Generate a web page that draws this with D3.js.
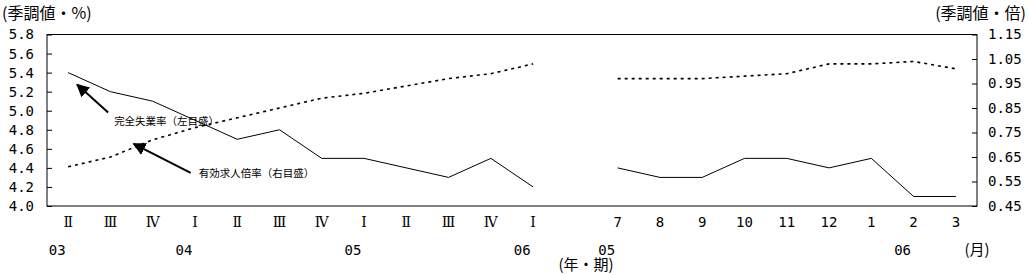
<!DOCTYPE html>
<html>
<head>
<meta charset="utf-8">
<script src="https://cdn.jsdelivr.net/npm/d3@7"></script>
<style>
  body { margin: 0; background: #fff; }
  svg { display: block; }
  .axis text { font-family: "DejaVu Sans Mono", monospace; font-size: 14px; fill: #000; }
  .cjk { font-family: "Noto Sans CJK JP", sans-serif; fill: #000; }
</style>
</head>
<body>
<svg width="1028" height="275"></svg>
<script>
// quarterly part (2003 II - 2006 I) and monthly part (2005/7 - 2006/3)
const quarterLabels = ["Ⅱ", "Ⅲ", "Ⅳ", "Ⅰ", "Ⅱ", "Ⅲ", "Ⅳ", "Ⅰ", "Ⅱ", "Ⅲ", "Ⅳ", "Ⅰ"];
const monthLabels = ["7", "8", "9", "10", "11", "12", "1", "2", "3"];

const unempQ = [5.4, 5.2, 5.1, 4.9, 4.7, 4.8, 4.5, 4.5, 4.4, 4.3, 4.5, 4.2];
const ratioQ = [0.61, 0.65, 0.72, 0.77, 0.81, 0.85, 0.89, 0.91, 0.94, 0.97, 0.99, 1.03];
const unempM = [4.4, 4.3, 4.3, 4.5, 4.5, 4.4, 4.5, 4.1, 4.1];
const ratioM = [0.97, 0.97, 0.97, 0.98, 0.99, 1.03, 1.03, 1.04, 1.01];

const yearLabelsQ = [[0, "03"], [3, "04"], [7, "05"], [11, "06"]];
const yearLabelsM = [[0, "05"], [7, "06"]];

const leftTicks = [4.0, 4.2, 4.4, 4.6, 4.8, 5.0, 5.2, 5.4, 5.6, 5.8];
const rightTicks = [0.45, 0.55, 0.65, 0.75, 0.85, 0.95, 1.05, 1.15];

const svg = d3.select("svg");
const width = +svg.attr("width");
const height = +svg.attr("height");
const margin = { top: 34.5, right: 51, bottom: 69, left: 47 };
const innerWidth = width - margin.left - margin.right;
const innerHeight = height - margin.top - margin.bottom;

// slot keys: 12 quarters, one empty slot, 9 months
const qKeys = quarterLabels.map((d, i) => "q" + i);
const mKeys = monthLabels.map((d, i) => "m" + i);
const keys = [...qKeys, "gap", ...mKeys];

const xScale = d3.scaleBand().domain(keys).range([0, innerWidth]);
const xc = k => xScale(k) + xScale.bandwidth() / 2;

const yLeft = d3.scaleLinear().domain([4.0, 5.8]).range([innerHeight, 0]);
const yRight = d3.scaleLinear().domain([0.45, 1.15]).range([innerHeight, 0]);

const g = svg.append("g")
  .attr("transform", `translate(${margin.left},${margin.top})`);

// frame
g.append("rect")
  .attr("width", innerWidth).attr("height", innerHeight)
  .attr("fill", "none").attr("stroke", "#000").attr("stroke-width", 1);

const leftAxis = d3.axisLeft(yLeft)
  .tickValues(leftTicks)
  .tickFormat(d3.format(".1f"))
  .tickSizeInner(-5).tickSizeOuter(0).tickPadding(13);
const la = g.append("g").attr("class", "axis").call(leftAxis);
la.select(".domain").remove();

const rightAxis = d3.axisRight(yRight)
  .tickValues(rightTicks)
  .tickFormat(d3.format(".2f"))
  .tickSizeInner(-5).tickSizeOuter(0).tickPadding(11);
const ra = g.append("g").attr("class", "axis")
  .attr("transform", `translate(${innerWidth},0)`).call(rightAxis);
ra.select(".domain").remove();

// x labels
const xLabels = [...quarterLabels.map((t, i) => [qKeys[i], t]), ...monthLabels.map((t, i) => [mKeys[i], t])];
g.selectAll(".xlab").data(xLabels).enter().append("text")
  .attr("x", d => xc(d[0]))
  .attr("y", innerHeight + 21)
  .attr("text-anchor", "middle")
  .style("font-family", d => d[0][0] === "q" ? "'DejaVu Serif', 'Noto Sans CJK JP', serif" : "'DejaVu Sans Mono', monospace")
  .style("font-size", "14px")
  .text(d => d[1]);

const years = [...yearLabelsQ.map(d => [qKeys[d[0]], d[1]]), ...yearLabelsM.map(d => [mKeys[d[0]], d[1]])];
g.selectAll(".ylab").data(years).enter().append("text")
  .attr("x", d => xc(d[0]) - 11)
  .attr("y", innerHeight + 49)
  .attr("text-anchor", "middle")
  .style("font-family", "'DejaVu Sans Mono', monospace")
  .style("font-size", "14px")
  .text(d => d[1]);

// lines
const lineL = d3.line().x(d => xc(d[0])).y(d => yLeft(d[1]));
const lineR = d3.line().x(d => xc(d[0])).y(d => yRight(d[1]));

const solidParts = [unempQ.map((v, i) => [qKeys[i], v]), unempM.map((v, i) => [mKeys[i], v])];
const dotParts = [ratioQ.map((v, i) => [qKeys[i], v]), ratioM.map((v, i) => [mKeys[i], v])];

g.selectAll(".unemp").data(solidParts).enter().append("path")
  .attr("d", lineL).attr("fill", "none").attr("stroke", "#000").attr("stroke-width", 1);

g.selectAll(".ratio").data(dotParts).enter().append("path")
  .attr("d", lineR).attr("fill", "none").attr("stroke", "#000")
  .attr("stroke-width", 1.6).attr("stroke-dasharray", "3,4");

// annotations with arrows
svg.append("defs").append("marker")
  .attr("id", "ah").attr("viewBox", "0 0 10 10")
  .attr("refX", 9).attr("refY", 5)
  .attr("markerWidth", 6.5).attr("markerHeight", 6.5)
  .attr("orient", "auto")
  .append("path").attr("d", "M0,0 L10,5 L0,10 z").attr("fill", "#000");

const p1 = [xc(qKeys[0]), yLeft(unempQ[0])];
g.append("line")
  .attr("x1", p1[0] + 40).attr("y1", p1[1] + 40)
  .attr("x2", p1[0] + 9).attr("y2", p1[1] + 12)
  .attr("stroke", "#000").attr("stroke-width", 2).attr("marker-end", "url(#ah)");
g.append("text").attr("class", "cjk")
  .attr("x", p1[0] + 46).attr("y", p1[1] + 52)
  .style("font-size", "10.5px")
  .text("完全失業率（左目盛）");

const p2 = [xc(qKeys[2]), yRight(ratioQ[2])];
g.append("line")
  .attr("x1", p2[0] + 38).attr("y1", p2[1] + 33)
  .attr("x2", p2[0] - 19).attr("y2", p2[1] + 4)
  .attr("stroke", "#000").attr("stroke-width", 2).attr("marker-end", "url(#ah)");
g.append("text").attr("class", "cjk")
  .attr("x", p2[0] + 46).attr("y", p2[1] + 37)
  .style("font-size", "10.5px")
  .text("有効求人倍率（右目盛）");

// axis titles
svg.append("text").attr("class", "cjk")
  .attr("x", 2).attr("y", 19).style("font-size", "16px")
  .text("(季調値・%)");
svg.append("text").attr("class", "cjk")
  .attr("x", 1026).attr("y", 19).attr("text-anchor", "end").style("font-size", "16px")
  .text("(季調値・倍)");
svg.append("text").attr("class", "cjk")
  .attr("x", 586).attr("y", 270).attr("text-anchor", "middle").style("font-size", "15px")
  .text("(年・期)");
svg.append("text").attr("class", "cjk")
  .attr("x", 977).attr("y", 255).attr("text-anchor", "middle").style("font-size", "15px")
  .text("(月)");
</script>
</body>
</html>
